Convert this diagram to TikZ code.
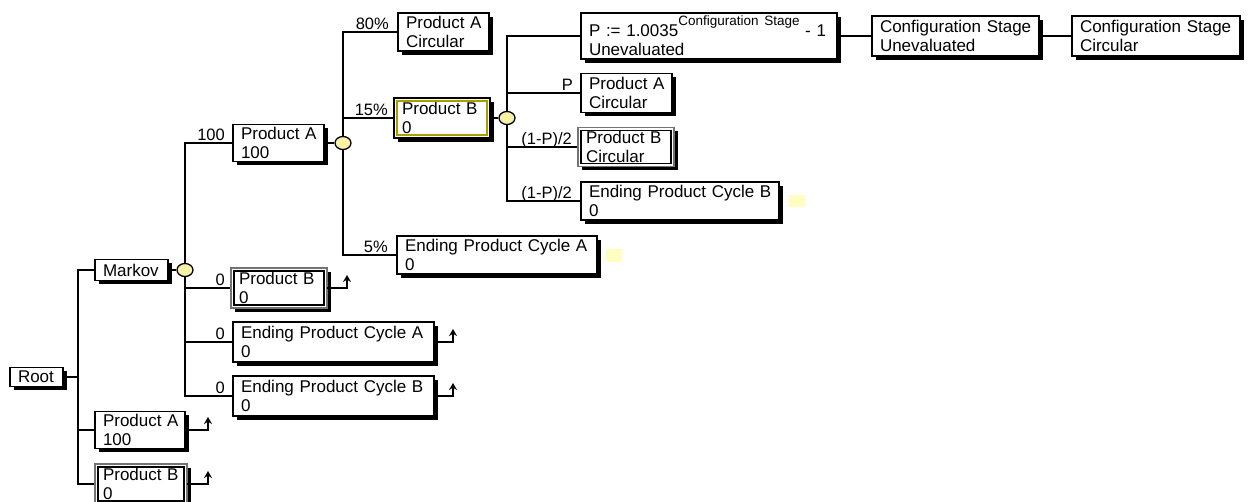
\documentclass[tikz,border=0pt]{standalone}
\usepackage{fontspec}
\setmainfont{Liberation Sans}
\usetikzlibrary{shadows,arrows.meta,shapes.geometric}
\definecolor{chancey}{HTML}{F8F2A6}
\definecolor{ysq}{HTML}{FFFDC0}
\definecolor{olivey}{HTML}{A89E00}
\newcommand\mybox[7]{%
  \pgfmathsetmacro\bw{#4-#3}\pgfmathsetmacro\tw{#4-#3-16}%
  \node[#2, anchor=west, minimum width=\bw pt, minimum height=#6 pt, text width=\tw pt] (#1) at (#3,#5) {#7};}
\newcommand\two[2]{\mbox{#1}\\\mbox{#2}}
\newcommand\inrect[2]{\draw[#2] ([shift={(3pt,-3pt)}]#1.north west) rectangle ([shift={(-3pt,3pt)}]#1.south east);}
\tikzset{
  tb/.style={draw=black, line width=1.6pt, fill=white, inner xsep=8pt, inner ysep=0pt, outer sep=0pt,
    align=left, font=\fontsize{17}{19.5}\selectfont,
    drop shadow={shadow xshift=3.5pt, shadow yshift=-3.5pt, fill=black, opacity=1}},
  dbl/.style={tb, draw=black!55, line width=1.2pt},
  conn/.style={line width=1.6pt},
  lbl/.style={anchor=base east, inner sep=0pt, font=\fontsize{16.5}{18}\selectfont},
  chance/.style={ellipse, draw=black, line width=1.3pt, fill=chancey, minimum width=16pt, minimum height=13pt, inner sep=0pt},
  term/.style={conn, -{Stealth[length=7pt,width=8pt]}},
  ysqr/.style={fill=ysq, draw=none, inner sep=0pt, anchor=north west}
}
\begin{document}
\begin{tikzpicture}[x=1pt,y=-1pt]
\useasboundingbox (0,0) rectangle (1248,501);
% coordinates of trunks
\coordinate (t0) at (78,377);
\coordinate (k1) at (185,270);
\coordinate (k2) at (343,143);
\coordinate (k3) at (507,118);
% connectors drawn first
\draw[conn] (t0) |- (95,270);
\draw[conn] (t0) |- (95,430);
\draw[conn] (t0) |- (95,484);
\draw[conn] (k1) |- (233,143);
\draw[conn] (k1) |- (231,288);
\draw[conn] (k1) |- (233,342);
\draw[conn] (k1) |- (233,396);
\draw[conn] (k2) |- (398,32);
\draw[conn] (k2) |- (394,118);
\draw[conn] (k2) |- (397,255);
\draw[conn] (k3) |- (581,36);
\draw[conn] (k3) |- (581,93);
\draw[conn] (k3) |- (578,147);
\draw[conn] (k3) |- (581,201);
% boxes
\mybox{root}{tb}{10}{63}{377}{19}{Root}
\mybox{markov}{tb}{95}{168}{270}{21}{Markov}
\mybox{pAbot}{tb}{95}{185}{430}{37}{\two{Product A}{100}}
\mybox{pBbot}{dbl}{95}{187}{484}{40}{\two{Product B}{0}}
\inrect{pBbot}{line width=1.4pt}
\mybox{pAmid}{tb}{233}{324}{143}{37}{\two{Product A}{100}}
\mybox{pBmid}{dbl}{231}{327}{288}{40}{\two{Product B}{0}}
\inrect{pBmid}{line width=1.4pt}
\mybox{ecAz}{tb}{233}{434}{342}{40}{\two{Ending Product Cycle A}{0}}
\mybox{ecBz}{tb}{233}{434}{396}{40}{\two{Ending Product Cycle B}{0}}
\mybox{pAcA}{tb}{398}{489}{32}{38}{\two{Product A}{Circular}}
\mybox{pBf}{tb}{394}{490}{118}{40}{\two{Product B}{0}}
\inrect{pBf}{line width=1.4pt, draw=olivey}
\mybox{ecAf}{tb}{397}{597}{255}{38}{\two{Ending Product Cycle A}{0}}
\mybox{pbox}{tb}{581}{837}{36}{46}{\two{P := 1.0035\raisebox{10.5pt}{\fontsize{13.5}{14}\selectfont Configuration Stage} - 1}{Unevaluated}}
\mybox{pAcB}{tb}{581}{672}{93}{39}{\two{Product A}{Circular}}
\mybox{pBcB}{dbl}{578}{674}{147}{39}{\two{Product B}{Circular}}
\inrect{pBcB}{line width=1.4pt}
\mybox{ecBf}{tb}{581}{779}{201}{38}{\two{Ending Product Cycle B}{0}}
\mybox{cfgU}{tb}{872}{1039}{36}{40}{\two{Configuration Stage}{Unevaluated}}
\mybox{cfgC}{tb}{1072}{1240}{36}{40}{\two{Configuration Stage}{Circular}}
% chance nodes
\node[chance] (c1) at (k1) {};
\node[chance] (c2) at (k2) {};
\node[chance] (c3) at (k3) {};
% other connectors
\draw[conn] (root.east) -- (t0);
\draw[conn] (markov.east) -- (c1);
\draw[conn] (pAmid.east) -- (c2);
\draw[conn] (pBf.east) -- (c3);
\draw[conn] (pbox.east) -- (cfgU.west);
\draw[conn] (cfgU.east) -- (cfgC.west);
% terminal arrows
\draw[term] (pAbot.east) -- ++(23,0) -- ++(0,-13);
\draw[term] (pBbot.east) -- ++(21,0) -- ++(0,-13);
\draw[term] (pBmid.east) -- ++(20,0) -- ++(0,-13);
\draw[term] (ecAz.east) -- ++(19,0) -- ++(0,-13);
\draw[term] (ecBz.east) -- ++(19,0) -- ++(0,-13);
% labels
\node[lbl] (l1) at ([xshift=-8pt,yshift=2.5pt]pAmid.west) {100};
\node[lbl] (l2) at ([xshift=-6pt,yshift=2.5pt]pBmid.west) {0};
\node[lbl] (l3) at ([xshift=-8pt,yshift=2.5pt]ecAz.west) {0};
\node[lbl] (l4) at ([xshift=-8pt,yshift=2.5pt]ecBz.west) {0};
\node[lbl] (l5) at ([xshift=-9pt,yshift=2.5pt]pAcA.west) {80\%};
\node[lbl] (l6) at ([xshift=-6pt,yshift=2.5pt]pBf.west) {15\%};
\node[lbl] (l7) at ([xshift=-9pt,yshift=2.5pt]ecAf.west) {5\%};
\node[lbl] (l8) at ([xshift=-8pt,yshift=2.5pt]pAcB.west) {P};
\node[lbl] (l9) at ([xshift=-6pt,yshift=2.5pt]pBcB.west) {(1-P)/2};
\node[lbl] (l10) at ([xshift=-9pt,yshift=2.5pt]ecBf.west) {(1-P)/2};
% yellow squares
\node[ysqr, minimum width=16pt, minimum height=13pt] (y1) at (606,249) {};
\node[ysqr, minimum width=16pt, minimum height=12pt] (y2) at (789,195) {};
\end{tikzpicture}
\end{document}
